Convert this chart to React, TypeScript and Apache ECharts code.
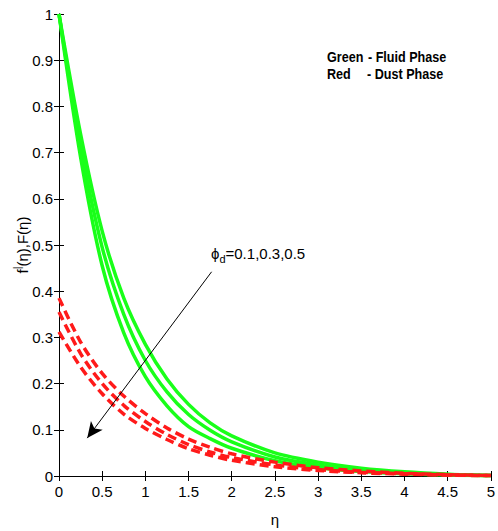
import React, { useEffect, useRef } from "react";
import * as echarts from "echarts";

// eta grid points
const eta = [0, 0.25, 0.5, 0.75, 1, 1.25, 1.5, 1.75, 2, 2.5, 3, 3.5, 4, 4.5, 5];

// Fluid phase f'(eta), phi_d = 0.1, 0.3, 0.5
const fluid01 = [1, 0.74, 0.53, 0.385, 0.285, 0.21, 0.155, 0.115, 0.087, 0.05, 0.03, 0.017, 0.009, 0.004, 0.001];
const fluid03 = [1, 0.715, 0.495, 0.35, 0.25, 0.182, 0.133, 0.099, 0.074, 0.041, 0.024, 0.013, 0.007, 0.003, 0.001];
const fluid05 = [1, 0.69, 0.455, 0.31, 0.215, 0.152, 0.107, 0.081, 0.06, 0.033, 0.018, 0.01, 0.005, 0.002, 0.001];

// Dust phase F(eta), phi_d = 0.1, 0.3, 0.5
const dust01 = [0.385, 0.29, 0.222, 0.173, 0.135, 0.104, 0.08, 0.062, 0.048, 0.03, 0.018, 0.011, 0.006, 0.003, 0.001];
const dust03 = [0.355, 0.265, 0.2, 0.153, 0.118, 0.09, 0.068, 0.052, 0.04, 0.024, 0.014, 0.008, 0.005, 0.002, 0.001];
const dust05 = [0.312, 0.236, 0.178, 0.134, 0.103, 0.079, 0.059, 0.045, 0.034, 0.02, 0.012, 0.007, 0.004, 0.002, 0.001];

// Arrow annotation (data coordinates)
const arrowStart = [1.767, 0.442];
const arrowEnd = [0.327, 0.082];

const FONT = "'Liberation Sans', Arial, sans-serif";

function pairs(ys: number[]) {
  return eta.map((x, i) => [x, ys[i]]);
}

export default function App() {
  const ref = useRef<HTMLDivElement>(null);
  useEffect(() => {
    if (!ref.current) return;
    const chart = echarts.init(ref.current, undefined, { renderer: "svg" });
    const axisCommon = {
      min: 0,
      axisLine: { show: true, lineStyle: { color: "#000", width: 1 } },
      axisTick: { show: true, inside: true, length: 5, lineStyle: { color: "#000" } },
      splitLine: { show: false },
    };
    const green = (name: string, ys: number[]) => ({
      type: "line",
      name,
      data: pairs(ys),
      smooth: 0.3,
      showSymbol: false,
      lineStyle: { color: "#19ff19", width: 3.5 },
      xAxisIndex: 0,
      yAxisIndex: 0,
      z: 2,
    });
    const red = (name: string, ys: number[]) => ({
      type: "line",
      name,
      data: pairs(ys),
      smooth: 0.3,
      showSymbol: false,
      lineStyle: { color: "#ff1a1a", width: 3.5, type: [9, 5] },
      xAxisIndex: 0,
      yAxisIndex: 0,
      z: 3,
    });
    const series: any[] = [
      green("fluid 0.1", fluid01),
      green("fluid 0.3", fluid03),
      green("fluid 0.5", fluid05),
      red("dust 0.1", dust01),
      red("dust 0.3", dust03),
      red("dust 0.5", dust05),
    ];
    series[5].markLine = {
      silent: true,
      symbol: ["none", "arrow"],
      symbolSize: [11, 16],
      label: { show: false },
      lineStyle: { color: "#000", width: 1, type: "solid" },
      data: [[{ coord: arrowStart }, { coord: arrowEnd }]],
    };
    const legendText = (text: string, x: number, y: number) => ({
      type: "text",
      x,
      y,
      scaleX: 0.9,
      style: { text, font: `bold 14px ${FONT}`, fill: "#000", textAlign: "left", textVerticalAlign: "middle" },
    });
    chart.setOption({
      animation: false,
      backgroundColor: "#fff",
      grid: { left: 59, right: 6, top: 14, bottom: 55 },
      xAxis: [
        {
          ...axisCommon,
          type: "value",
          max: 5,
          interval: 0.5,
          position: "bottom",
          axisLabel: { color: "#000", fontSize: 15, fontFamily: FONT, margin: 8 },
        },
        {
          ...axisCommon,
          type: "value",
          max: 5,
          interval: 0.5,
          position: "top",
          axisLabel: { show: false },
        },
      ],
      yAxis: [
        {
          ...axisCommon,
          type: "value",
          max: 1,
          interval: 0.1,
          position: "left",
          axisLabel: { color: "#000", fontSize: 15, fontFamily: FONT, margin: 6 },
        },
        {
          ...axisCommon,
          type: "value",
          max: 1,
          interval: 0.1,
          position: "right",
          axisLabel: { show: false },
        },
      ],
      series,
      graphic: [
        {
          type: "text",
          x: 22,
          y: 245,
          rotation: Math.PI / 2,
          style: {
            text: "{a|f}{p||}{a|(η),F(η)}",
            rich: {
              a: { font: `15px ${FONT}`, fill: "#000", lineHeight: 20, verticalAlign: "middle" },
              p: { font: `10px ${FONT}`, fill: "#000", lineHeight: 10, verticalAlign: "top" },
            },
            textAlign: "center",
            textVerticalAlign: "middle",
          },
        },
        {
          type: "text",
          x: 275,
          y: 519,
          style: {
            text: "η",
            font: `15px ${FONT}`,
            fill: "#000",
            textAlign: "center",
            textVerticalAlign: "middle",
          },
        },
        {
          type: "text",
          x: 211,
          y: 253,
          style: {
            text: "{a|ϕ}{s|d}{a|=0.1,0.3,0.5}",
            rich: {
              a: { font: `15px ${FONT}`, fill: "#000", lineHeight: 22, verticalAlign: "middle" },
              s: { font: `11px ${FONT}`, fill: "#000", lineHeight: 12, verticalAlign: "bottom" },
            },
            textAlign: "left",
            textVerticalAlign: "middle",
          },
        },
        legendText("Green", 327, 57),
        legendText("- Fluid Phase", 368, 57),
        legendText("Red", 327, 74),
        legendText("- Dust Phase", 367, 74),
      ],
    });
    return () => chart.dispose();
  }, []);
  return <div ref={ref} style={{ width: 498, height: 531, position: "absolute", left: 0, top: 0 }} />;
}
